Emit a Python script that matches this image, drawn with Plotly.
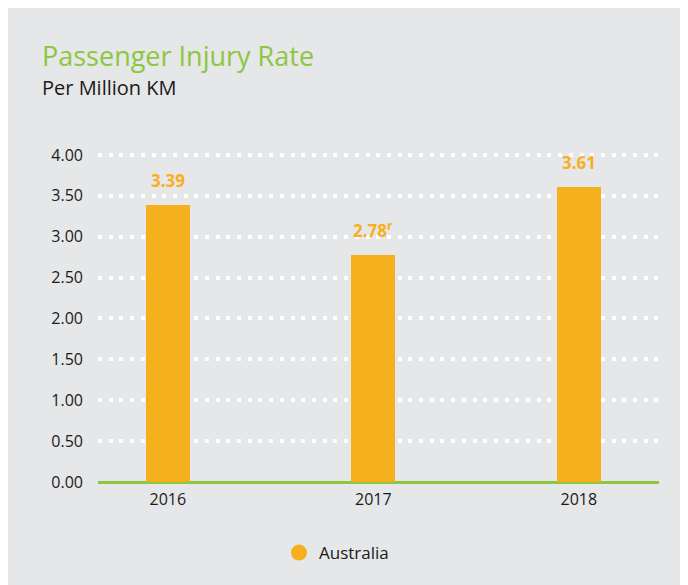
import plotly.graph_objects as go

years = ["2016", "2017", "2018"]
values = [3.39, 2.78, 3.61]
labels = ["3.39", "2.78<sup>r</sup>", "3.61"]
y_ticks = [0, 0.5, 1.0, 1.5, 2.0, 2.5, 3.0, 3.5, 4.0]
y_ticktext = ["0.00", "0.50", "1.00", "1.50", "2.00", "2.50", "3.00", "3.50", "4.00"]
series_name = "Australia"

ORANGE = "#f7b01d"
GREEN = "#8dc63f"
GRAY = "#e6e7e8"
FONT = "Open Sans"

OFF = 8  # page body margin
W, H = 674, 577
L, R, T, B = 90, 23, 142, 103
pw = W - L - R
ph = H - T - B

def px_x(px):
    return (px - OFF - L) / pw

def px_y(py):
    return (H - B - (py - OFF)) / ph

fig = go.Figure()
fig.add_trace(go.Bar(
    x=years, y=values, marker=dict(color=ORANGE, line=dict(width=0)),
    width=0.214, showlegend=False, hoverinfo="skip",
))
fig.add_trace(go.Scatter(
    x=[None], y=[None], mode="markers", name=series_name,
    marker=dict(color=ORANGE, size=16, symbol="circle"),
))

for i, (v, lab) in enumerate(zip(values, labels)):
    fig.add_annotation(
        x=i, y=v, text=lab, showarrow=False, xref="x", yref="y",
        yanchor="bottom", yshift=11,
        font=dict(family=FONT, size=17, color=ORANGE, weight="bold"),
    )

fig.add_annotation(
    x=px_x(40), y=px_y(55), xref="paper", yref="paper", xanchor="left", yanchor="middle",
    text="Passenger Injury Rate", showarrow=False,
    font=dict(family=FONT, size=27, color=GREEN),
)
fig.add_annotation(
    x=px_x(40), y=px_y(87), xref="paper", yref="paper", xanchor="left", yanchor="middle",
    text="Per Million KM", showarrow=False,
    font=dict(family=FONT, size=20, color="#1a1a1a"),
)

fig.update_layout(
    width=W, height=H,
    margin=dict(l=L, r=R, t=T, b=B, pad=0),
    paper_bgcolor=GRAY, plot_bgcolor=GRAY,
    bargap=0,
    showlegend=True,
    legend=dict(
        orientation="h", x=px_x(279), y=px_y(553), xanchor="left", yanchor="middle",
        font=dict(family=FONT, size=17, color="#1a1a1a"), bgcolor="rgba(0,0,0,0)",
    ),
    xaxis=dict(
        type="category", range=[-0.34, 2.39], showgrid=False, zeroline=False,
        showline=False, ticks="", ticklabelstandoff=6,
        tickfont=dict(family=FONT, size=16, color="#1a1a1a"),
        fixedrange=True,
    ),
    yaxis=dict(
        range=[0, 4.061], tickvals=y_ticks, ticktext=y_ticktext,
        showgrid=True, gridcolor="white", gridwidth=4, griddash="4px,6.7px",
        zeroline=True, zerolinecolor=GREEN, zerolinewidth=3,
        showline=False, ticks="", ticklabelstandoff=14,
        tickfont=dict(family=FONT, size=16, color="#1a1a1a"),
        fixedrange=True,
    ),
)

fig.write_html("out.html")
